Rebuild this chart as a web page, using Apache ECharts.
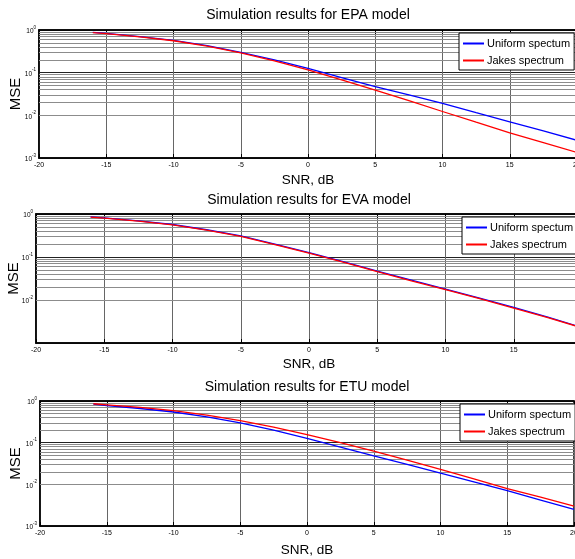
<!DOCTYPE html>
<html><head><meta charset="utf-8">
<script src="https://cdn.jsdelivr.net/npm/echarts@6/dist/echarts.min.js"></script>
<style>html,body{margin:0;padding:0;background:#fff}#c{width:575px;height:559px}</style>
</head><body><div id="c"></div>
<script>
const snr = [-16,-15,-12.5,-10,-7.5,-5,-2.5,0,2.5,5,7.5,10,12.5,15,17.5,20];
const epaUniform = [0.88,0.83,0.70,0.57,0.43,0.30,0.20,0.126,0.077,0.047,0.030,0.019,0.0115,0.0070,0.0043,0.0026];
const epaJakes   = [0.87,0.82,0.69,0.56,0.42,0.29,0.19,0.116,0.068,0.039,0.022,0.0123,0.0069,0.0039,0.0023,0.00135];
const evaUniform = [0.86,0.81,0.69,0.57,0.43,0.31,0.20,0.127,0.078,0.047,0.029,0.018,0.011,0.0067,0.0040,0.0023];
const evaJakes   = [0.85,0.80,0.68,0.56,0.42,0.30,0.195,0.123,0.076,0.0455,0.028,0.0175,0.0107,0.0065,0.0039,0.00225];
const etuUniform = [0.84,0.78,0.66,0.545,0.415,0.30,0.20,0.126,0.078,0.048,0.030,0.0185,0.0115,0.0071,0.0042,0.0025];
const etuJakes   = [0.86,0.81,0.70,0.59,0.46,0.34,0.235,0.156,0.10,0.063,0.038,0.023,0.0135,0.0079,0.0049,0.0030];
const titles = ['Simulation results for EPA model','Simulation results for EVA model','Simulation results for ETU model'];
const seriesNames = ['Uniform spectum','Jakes spectrum'];
const seriesColors = ['#0000ff','#ff0000'];
const xMin = -20, xMax = 20, xInterval = 5;
const yMin = 0.001, yMax = 1;
const minorGrid = [0.002,0.003,0.004,0.005,0.006,0.007,0.008,0.009,
                   0.02,0.03,0.04,0.05,0.06,0.07,0.08,0.09,
                   0.2,0.3,0.4,0.5,0.6,0.7,0.8,0.9];
const plots = [[epaUniform, epaJakes],[evaUniform, evaJakes],[etuUniform, etuJakes]];
const hideBottomLabel = [false, true, false];

const grids = [
  {left:39, top:30, width:538, height:128},
  {left:36, top:214, width:546, height:129},
  {left:40, top:401, width:534, height:125}
];
const titleGap = [8,7,7];
const xNameGap = [15,14,17];
const yNameGap = [16,15,17];
const legendPos = [{left:459, top:33},{left:462, top:217},{left:460, top:404}];

const FONT = 'Liberation Sans, Arial, Helvetica, sans-serif';
const option = {
  animation:false,
  backgroundColor:'#fff',
  grid: grids.map(g => Object.assign({show:true, borderColor:'#000', borderWidth:1.5, backgroundColor:'transparent', containLabel:false, outerBoundsMode:'none'}, g)),
  xAxis: [],
  yAxis: [],
  legend: [],
  series: []
};
for (let i=0;i<3;i++){
  option.xAxis.push({
    type:'value', gridIndex:i, min:xMin, max:xMax, interval:xInterval, position:'bottom',
    axisLine:{show:true, onZero:false, lineStyle:{color:'#000', width:1.5}},
    axisTick:{show:true, inside:true, length:4, lineStyle:{color:'#000'}},
    axisLabel:{fontSize:7, color:'#000', margin:4, fontFamily:FONT},
    splitLine:{show:true, lineStyle:{color:'#666', width:1}},
    name:'SNR, dB', nameLocation:'middle', nameGap:xNameGap[i], nameMoveOverlap:false,
    nameTextStyle:{fontSize:13.5, color:'#000', fontFamily:FONT}
  });
}
for (let i=0;i<3;i++){
  option.xAxis.push({
    type:'value', gridIndex:i, min:xMin, max:xMax, interval:xInterval, position:'top',
    axisLine:{show:true, onZero:false, lineStyle:{color:'#000', width:1.5}},
    axisTick:{show:true, inside:true, length:4, lineStyle:{color:'#000'}},
    axisLabel:{show:false},
    splitLine:{show:false},
    name:titles[i], nameLocation:'middle', nameGap:titleGap[i], nameMoveOverlap:false,
    nameTextStyle:{fontSize:14, color:'#000', fontFamily:FONT}
  });
}
for (let i=0;i<3;i++){
  const hide = hideBottomLabel[i];
  option.yAxis.push({
    type:'log', logBase:10, gridIndex:i, min:yMin, max:yMax,
    axisLine:{show:true, onZero:false, lineStyle:{color:'#000', width:1.5}},
    axisTick:{show:false},
    axisLabel:{
      margin:3, color:'#000', fontFamily:FONT,
      formatter: v => {
        const e = Math.round(Math.log10(v));
        if (hide && e === -3) return '';
        return '{b|10}{s|' + e + '}';
      },
      rich:{ b:{fontSize:6.5, fontFamily:FONT, color:'#000', verticalAlign:'bottom', lineHeight:10},
             s:{fontSize:4.5, fontFamily:FONT, color:'#000', verticalAlign:'top', lineHeight:10} }
    },
    splitLine:{show:true, lineStyle:{color:'#222', width:1}},
    name:'MSE', nameLocation:'middle', nameGap:yNameGap[i], nameRotate:90, nameMoveOverlap:false,
    nameTextStyle:{fontSize:15, color:'#000', fontFamily:FONT}
  });
  option.legend.push(Object.assign({
    orient:'vertical', data:seriesNames, backgroundColor:'#fff', borderColor:'#000', borderWidth:1,
    padding:[5,4,4,4], itemGap:6, itemWidth:21, itemHeight:2, icon:'rect', selectedMode:false,
    textStyle:{fontSize:11, color:'#000', fontFamily:FONT, padding:[0,0,0,-2]}
  }, legendPos[i]));
  for (let k=0;k<2;k++){
    const s = {
      type:'line', name:seriesNames[k], xAxisIndex:i, yAxisIndex:i, z:3,
      data: snr.map((x,j)=>[x, plots[i][k][j]]),
      symbol:'none', showSymbol:false, smooth:false,
      lineStyle:{color:seriesColors[k], width:1.3}, itemStyle:{color:seriesColors[k]},
      emphasis:{disabled:true}
    };
    if (k===0){
      s.markLine = {
        silent:true, z:1, symbol:['none','none'], animation:false,
        label:{show:false}, emphasis:{disabled:true},
        lineStyle:{color:'#8c8c8c', type:'solid', width:1},
        data: minorGrid.map(v=>({yAxis:v}))
      };
    }
    option.series.push(s);
  }
}
const chart = echarts.init(document.getElementById('c'), null, {renderer:'canvas'});
chart.setOption(option);
</script>
</body></html>
